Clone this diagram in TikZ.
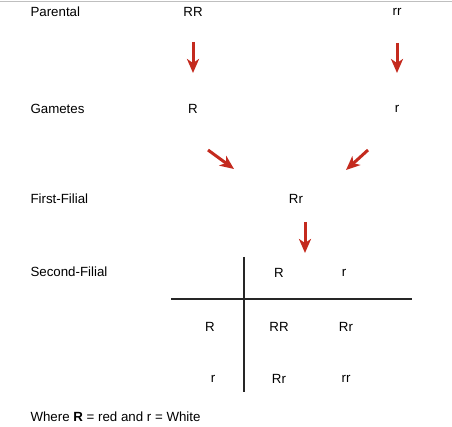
\documentclass[tikz,border=0pt]{standalone}
\usepackage{fontspec}
\setmainfont{Liberation Sans}
\usetikzlibrary{arrows.meta}

\definecolor{arrowred}{RGB}{196,42,30}

\begin{document}
\begin{tikzpicture}[
    x=1pt, y=-1pt,
    font=\fontsize{13.3}{15}\selectfont,
    stage/.style={anchor=west},
    allele/.style={anchor=center, inner sep=1pt},
    cross/.style={-{Stealth[length=14pt, width=12pt, inset=4pt]}, line width=3pt, arrowred},
    grid/.style={line width=1.2pt, black!85}
]

% Frame
\useasboundingbox (0,0) rectangle (452,427);
\draw[black!25, line width=1pt] (0,2) -- (452,2);

% Stage labels
\node[stage] (parental) at (27,12)  {Parental};
\node[stage] (gametes)  at (27,109) {Gametes};
\node[stage] (first)    at (27,199) {First-Filial};
\node[stage] (second)   at (27,272) {Second-Filial};

% Parents and gametes
\node[allele] (pRR) at (193,12)  {RR};
\node[allele] (prr) at (397,12)  {rr};
\node[allele] (gR)  at (193,109) {R};
\node[allele] (gr)  at (397,109) {r};
\node[allele] (f1)  at (296,199) {Rr};

% Arrow ends
\coordinate (a1s) at (193,42);  \coordinate (a1e) at (193,73);
\coordinate (a2s) at (397,43);  \coordinate (a2e) at (397,73);
\coordinate (a3s) at (208,150); \coordinate (a3e) at (234,169);
\coordinate (a4s) at (368,150); \coordinate (a4e) at (346,170);
\coordinate (a5s) at (305,222); \coordinate (a5e) at (305,253);

\foreach \s/\e in {a1s/a1e, a2s/a2e, a3s/a3e, a4s/a4e, a5s/a5e}
    \draw[cross] (\s) -- (\e);

% Punnett square
\coordinate (vtop) at (244,257); \coordinate (vbot) at (244,392);
\coordinate (hleft) at (171,299); \coordinate (hright) at (412,299);
\draw[grid] (vtop) -- (vbot);
\draw[grid] (hleft) -- (hright);

\node[allele] (colR) at (279,273) {R};
\node[allele] (colr) at (344,273) {r};
\node[allele] (rowR) at (210,327) {R};
\node[allele] (rowr) at (213,379) {r};

\node[allele] (cRR) at (279,327) {RR};
\node[allele] (cRr) at (346,327) {Rr};
\node[allele] (crR) at (279,379) {Rr};
\node[allele] (crr) at (346,379) {rr};

% Key
\node[stage] (key) at (27,417) {Where \textbf{R} = red and r = White};

\end{tikzpicture}
\end{document}
